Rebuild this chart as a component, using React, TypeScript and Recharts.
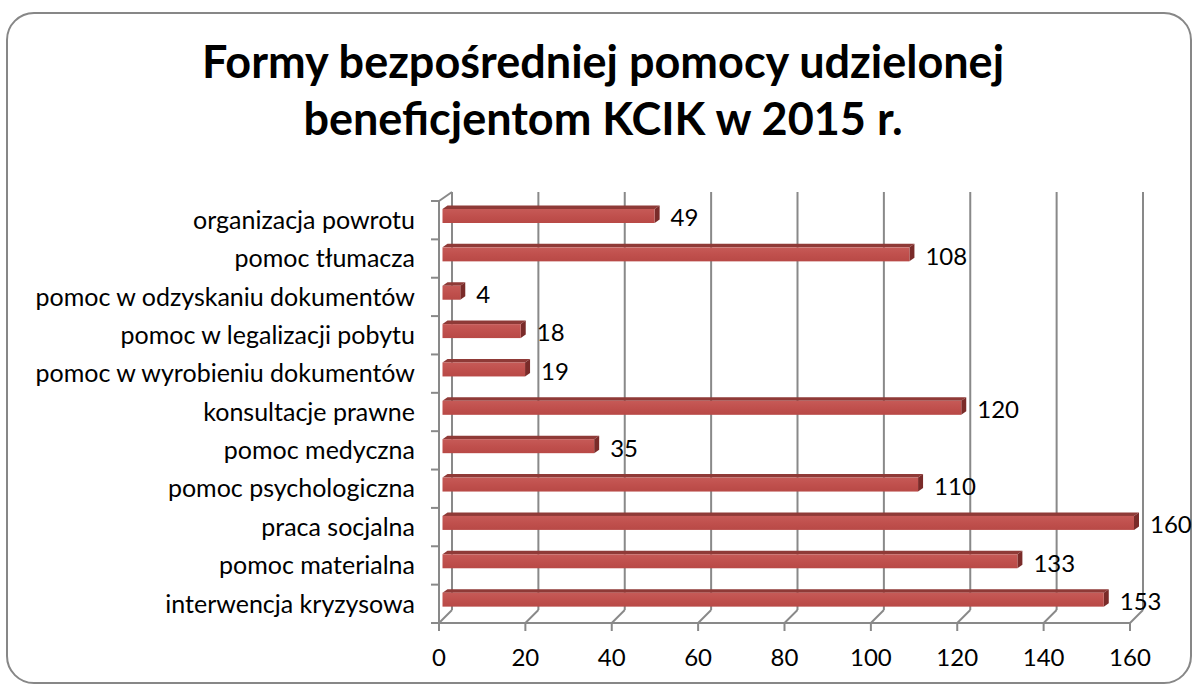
import { BarChart, Bar, XAxis, YAxis, CartesianGrid, LabelList } from 'recharts';

const categories = [
  'organizacja powrotu',
  'pomoc tłumacza',
  'pomoc w odzyskaniu dokumentów',
  'pomoc w legalizacji pobytu',
  'pomoc w wyrobieniu dokumentów',
  'konsultacje prawne',
  'pomoc medyczna ',
  'pomoc psychologiczna',
  'praca socjalna',
  'pomoc materialna',
  'interwencja kryzysowa',
];
const values = [49, 108, 4, 18, 19, 120, 35, 110, 160, 133, 153];
const xTicks = [0, 20, 40, 60, 80, 100, 120, 140, 160];

const FONT = 'Lato, "Open Sans", sans-serif';
const GRID = '#898989';
const DEPTH_X = 13;
const DEPTH_BOTTOM = 13;
const DEPTH_TOP = 9;

// plot box (front plane)
const PLOT_LEFT = 439;
const PLOT_TOP = 201;
const PLOT_BOTTOM = 623;
const PLOT_RIGHT = 1130;
const BAND = (PLOT_BOTTOM - PLOT_TOP) / categories.length;

const chartData = categories.map((name, i) => ({ name, value: values[i] }));

function GridLine(props: any) {
  const { x1, y1, y2, index } = props;
  const top = Math.min(y1, y2);
  const bottom = Math.max(y1, y2);
  const bx = x1 + DEPTH_X;
  return (
    <g>
      <line x1={bx} y1={top - DEPTH_TOP} x2={bx} y2={bottom - DEPTH_BOTTOM} stroke={GRID} strokeWidth={2} />
      <line x1={bx} y1={bottom - DEPTH_BOTTOM} x2={x1} y2={bottom} stroke={GRID} strokeWidth={2} />
      {index === 0 && (
        <line x1={x1} y1={top} x2={bx} y2={top - DEPTH_TOP} stroke={GRID} strokeWidth={2} />
      )}
    </g>
  );
}

function Bar3D(props: any) {
  const { x, y, width, height } = props;
  const d = 5;
  const dy = 3.5;
  const X0 = x + 3.5;
  const X1 = x + width + 4;
  const Y0 = y - 4;
  const Y1 = Y0 + height;
  return (
    <g>
      <polygon points={`${X0},${Y0} ${X0 + d},${Y0 - dy} ${X1 + d},${Y0 - dy} ${X1},${Y0}`} fill="#8f3a37" />
      <polygon points={`${X1},${Y0} ${X1 + d},${Y0 - dy} ${X1 + d},${Y1 - dy} ${X1},${Y1}`} fill="#7a2b29" />
      <rect x={X0} y={Y0} width={X1 - X0} height={Y1 - Y0} fill="url(#barFront)" />
    </g>
  );
}

function CategoryTick(props: any) {
  const { y, payload, index } = props;
  const top = y - BAND / 2;
  return (
    <g>
      <line x1={PLOT_LEFT - 8} y1={top} x2={PLOT_LEFT} y2={top} stroke={GRID} strokeWidth={2} />
      {index === categories.length - 1 && (
        <line x1={PLOT_LEFT - 8} y1={top + BAND} x2={PLOT_LEFT} y2={top + BAND} stroke={GRID} strokeWidth={2} />
      )}
      <text x={PLOT_LEFT - 24} y={y} dy="0.35em" textAnchor="end" fontSize={25} fontFamily={FONT} fill="#000">
        {payload.value}
      </text>
    </g>
  );
}

function ValueLabel(props: any) {
  const { x, y, width, height, value } = props;
  return (
    <text x={x + width + 20} y={y + height / 2 - 2} dy="0.35em" fontSize={24} fontFamily={FONT} fill="#000">
      {value}
    </text>
  );
}

export default function App() {
  return (
    <div style={{ position: 'absolute', left: 0, top: 0, width: 1196, height: 688, background: '#fff', overflow: 'hidden' }}>
      <div
        style={{
          position: 'absolute',
          left: 6,
          top: 12,
          width: 1186,
          height: 672,
          border: '2px solid #878787',
          borderRadius: 28,
          boxSizing: 'border-box',
        }}
      />
      <div
        style={{
          position: 'absolute',
          left: 0,
          top: 33,
          width: 1206,
          textAlign: 'center',
          fontFamily: FONT,
          fontWeight: 700,
          fontSize: 45,
          lineHeight: '57px',
          color: '#000',
        }}
      >
        Formy bezpośredniej pomocy udzielonej
        <br />
        beneficjentom KCIK w 2015 r.
      </div>
      <div style={{ position: 'absolute', left: 0, top: 0 }}>
        <BarChart
          width={1196}
          height={688}
          data={chartData}
          layout="vertical"
          margin={{ top: PLOT_TOP, right: 1196 - PLOT_RIGHT, bottom: 25, left: 0 }}
          barSize={14}
        >
          <defs>
            <linearGradient id="barFront" x1="0" y1="0" x2="0" y2="1">
              <stop offset="0%" stopColor="#c65a57" />
              <stop offset="50%" stopColor="#c0504d" />
              <stop offset="100%" stopColor="#b84946" />
            </linearGradient>
          </defs>
          <CartesianGrid horizontal={false} vertical={(p: any) => <GridLine {...p} />} />
          <XAxis
            type="number"
            domain={[0, 160]}
            ticks={xTicks}
            interval={0}
            height={40}
            axisLine={{ stroke: GRID, strokeWidth: 2 }}
            tickLine={{ stroke: GRID, strokeWidth: 2 }}
            tickSize={8}
            tickMargin={18}
            tick={{ fontSize: 24, fontFamily: FONT, fill: '#000' }}
          />
          <YAxis
            type="category"
            dataKey="name"
            width={PLOT_LEFT}
            axisLine={{ stroke: GRID, strokeWidth: 2 }}
            tickLine={false}
            interval={0}
            tick={(p: any) => <CategoryTick {...p} />}
          />
          <Bar dataKey="value" shape={(p: any) => <Bar3D {...p} />} isAnimationActive={false}>
            <LabelList dataKey="value" content={(p: any) => <ValueLabel {...p} />} />
          </Bar>
        </BarChart>
      </div>
    </div>
  );
}
